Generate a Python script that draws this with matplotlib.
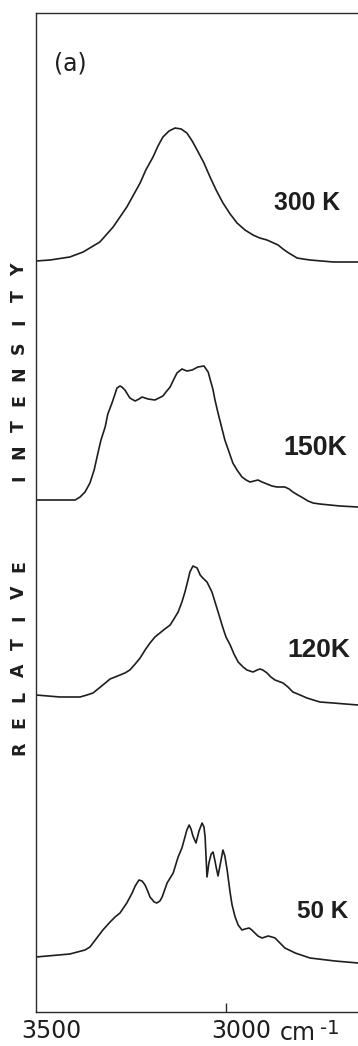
import matplotlib
matplotlib.use("Agg")
import matplotlib.pyplot as plt
import numpy as np

# Raman spectra of the C-H stretching region at four temperatures.
# Wavenumbers in cm^-1, intensities in arbitrary units above each baseline.
wn_300 = [3500, 3463, 3411, 3376, 3332, 3297, 3279, 3261, 3245, 3226, 3211, 3192,
          3179, 3166, 3150, 3134, 3118, 3103, 3089, 3076, 3058, 3042, 3026, 3008,
          2989, 2971, 2950, 2929, 2911, 2892, 2863, 2850, 2839, 2826, 2813, 2797,
          2779, 2718, 2653]
int_300 = [0, 1, 4, 9, 19, 34, 44, 54, 65, 78, 91, 104,
           115, 124, 130, 133, 132, 128, 120, 111, 98, 84, 71, 58,
           47, 38, 31, 26, 23, 21, 16, 12, 9, 6, 3, 2,
           1, -1, -1]

wn_150 = [3500, 3437, 3397, 3384, 3371, 3358, 3347, 3337, 3329, 3318, 3311, 3300,
          3292, 3287, 3279, 3274, 3266, 3253, 3239, 3229, 3221, 3213, 3205, 3187,
          3166, 3158, 3147, 3137, 3129, 3116, 3103, 3089, 3074, 3058, 3047, 3042,
          3034, 3029, 3021, 3013, 3003, 2992, 2982, 2971, 2958, 2947, 2937, 2926,
          2916, 2905, 2892, 2879, 2866, 2845, 2834, 2824, 2811, 2797, 2784, 2771,
          2753, 2700, 2653]
int_150 = [0, 0, 0, 3, 8, 17, 30, 47, 60, 73, 86, 97,
           106, 112, 114, 113, 110, 102, 99, 101, 103, 102, 101, 100,
           104, 108, 113, 121, 127, 131, 129, 130, 133, 134, 128, 121,
           110, 100, 87, 75, 60, 48, 37, 30, 23, 20, 18, 19,
           20, 18, 16, 14, 13, 13, 11, 8, 5, 2, -1, -3,
           -4, -6, -7]

wn_120 = [3500, 3437, 3384, 3366, 3350, 3337, 3324, 3305, 3292, 3279, 3266, 3253,
          3239, 3226, 3213, 3200, 3187, 3174, 3161, 3147, 3137, 3126, 3116, 3108,
          3100, 3095, 3087, 3076, 3068, 3061, 3050, 3037, 3024, 3016, 3008, 3000,
          2989, 2979, 2968, 2955, 2945, 2929, 2918, 2911, 2903, 2892, 2882, 2871,
          2850, 2837, 2824, 2805, 2787, 2753, 2718, 2653]
int_120 = [0, -2, -2, 0, 2, 6, 10, 16, 18, 20, 22, 25,
           31, 37, 45, 52, 58, 62, 66, 70, 76, 83, 93, 103,
           115, 123, 129, 127, 120, 117, 113, 103, 87, 77, 67, 58,
           50, 41, 33, 28, 25, 23, 25, 26, 25, 22, 18, 15,
           12, 8, 3, 0, -3, -7, -8, -10]

wn_50 = [3500, 3411, 3371, 3358, 3342, 3324, 3305, 3292, 3279, 3261, 3247, 3239,
         3229, 3221, 3213, 3205, 3200, 3189, 3182, 3174, 3168, 3155, 3147, 3139,
         3126, 3116, 3108, 3103, 3097, 3092, 3087, 3079, 3071, 3063, 3058, 3055,
         3050, 3045, 3039, 3034, 3029, 3026, 3021, 3013, 3008, 3003, 2997, 2989,
         2984, 2976, 2968, 2958, 2950, 2939, 2932, 2924, 2916, 2905, 2897, 2889,
         2879, 2871, 2858, 2845, 2818, 2779, 2713, 2653]
int_50 = [0, 3, 7, 10, 18, 27, 35, 40, 44, 54, 64, 71,
          77, 76, 72, 65, 60, 55, 54, 56, 60, 74, 79, 84,
          100, 109, 120, 127, 132, 128, 121, 114, 126, 134, 130, 120,
          80, 94, 103, 105, 96, 90, 81, 97, 107, 101, 87, 64,
          52, 40, 32, 27, 28, 29, 27, 24, 21, 19, 20, 21,
          20, 19, 14, 9, 4, -1, -4, -6]

temperatures = ["300 K", "150K", "120K", "50 K"]
baselines = [751, 512, 317, 55]

x_ticks = [3500, 3000]
x_tick_labels = ["3500", "3000"]
y_title = ["RELATIVE", "INTENSITY"]

W, H = 358, 1046
PT = 72 / 100  # points per pixel at 100 dpi
fig = plt.figure(figsize=(W / 100, H / 100), dpi=100)
fig.patch.set_facecolor("white")

ax = fig.add_axes([36 / W, 34 / H, 1 - 36 / W, 999 / H])
ax.set_xlim(3500, 3500 - (W - 36) * 500 / 190)
ax.set_ylim(0, 999)

ink = "#1e1e1e"
series = [(wn_300, int_300), (wn_150, int_150), (wn_120, int_120), (wn_50, int_50)]
for (wn, inten), base in zip(series, baselines):
    ax.plot(wn, np.asarray(inten) + base, color=ink, lw=1.2,
            solid_joinstyle="round", solid_capstyle="round")

for side in ("left", "top", "bottom"):
    ax.spines[side].set_color("#2a2a2a")
    ax.spines[side].set_linewidth(1.0)
ax.spines["right"].set_visible(False)

ax.set_xticks([x_ticks[1]])
ax.set_xticklabels([])
ax.tick_params(axis="x", direction="in", length=6.5, width=1.0, color="#2a2a2a")
ax.set_yticks([])

# tick numbers and unit under the axis
for val, lab in zip(x_ticks, x_tick_labels):
    ax.annotate(lab, xy=(val, 0), xycoords=("data", "axes fraction"),
                xytext=(15 * PT, -19 * PT), textcoords="offset points",
                ha="center", va="center", fontsize=17, color=ink,
                family="DejaVu Sans")
ax.annotate("cm", xy=(x_ticks[1], 0), xycoords=("data", "axes fraction"),
            xytext=(54 * PT, -21 * PT), textcoords="offset points",
            ha="left", va="center", fontsize=17, color=ink, family="DejaVu Sans")
ax.annotate("-1", xy=(x_ticks[1], 0), xycoords=("data", "axes fraction"),
            xytext=(94 * PT, -17 * PT), textcoords="offset points",
            ha="left", va="center", fontsize=14, color=ink, family="DejaVu Sans")

# temperature labels
label_pos = [(340, 203, 17.8), (347, 448, 19.3), (350, 650, 19), (348, 911, 17.5)]
for name, (px, py, fs) in zip(temperatures, label_pos):
    fig.text(px / W, 1 - py / H, name, ha="right", va="center",
             fontsize=fs, fontweight="bold", color=ink,
             family="Liberation Sans")

fig.text(54 / W, 1 - 63 / H, "(a)", ha="left", va="center", fontsize=17,
         color=ink, family="DejaVu Sans")

# spaced vertical axis title, one letter at a time
starts = [748, 478]
step = 26
for word, start in zip(y_title, starts):
    for i, ch in enumerate(word):
        py = start - i * step
        fig.text(19 / W, 1 - py / H, ch, rotation=90, ha="center", va="center",
                 fontsize=12.5, fontweight="bold", color=ink,
                 family="DejaVu Sans")

fig.savefig("out.png", dpi=100, facecolor="white")
